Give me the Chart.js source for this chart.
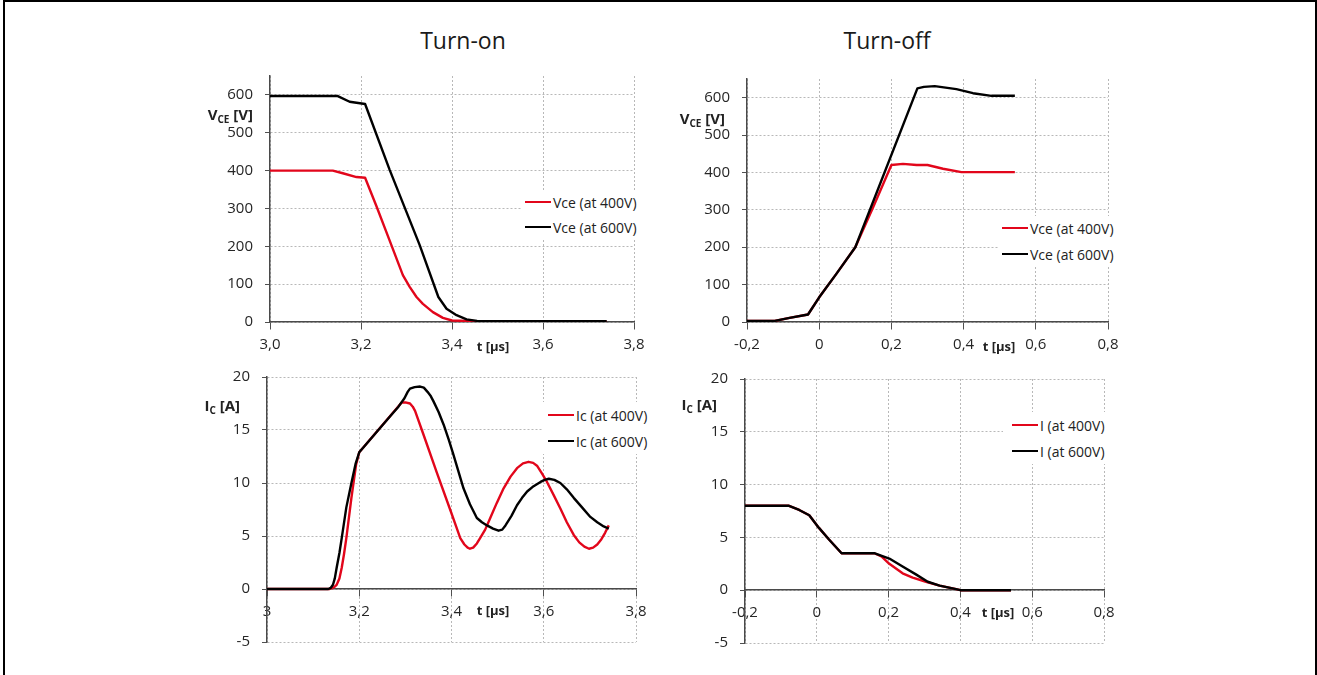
<!DOCTYPE html>
<html>
<head>
<meta charset="utf-8">
<script src="https://cdn.jsdelivr.net/npm/chart.js@4.4.1/dist/chart.umd.min.js"></script>
<style>
html,body{margin:0;padding:0;background:#fff;}
#stage{position:relative;width:1317px;height:675px;overflow:hidden;background:#fff;font-family:'Open Sans',sans-serif;color:#222;}
#frame{position:absolute;left:3px;top:0;width:1310px;height:700px;border:2px solid #000;border-bottom:none;}
canvas{position:absolute;}
.t{position:absolute;white-space:nowrap;line-height:1;}
.title{font-size:23px;color:#1a1a1a;width:200px;text-align:center;}
.ax{font-weight:bold;font-size:13px;color:#222;width:60px;text-align:center;}
.yt{font-weight:bold;font-size:15px;color:#222;text-align:right;}
.yt sub{font-size:10px;vertical-align:baseline;position:relative;top:3px;}
.leg{position:absolute;background:#fff;}
.row{position:absolute;height:20px;display:flex;align-items:center;font-size:14px;color:#222;white-space:nowrap;}
.sw{display:inline-block;width:26px;height:2.5px;margin-right:2px;}
</style>
</head>
<body>
<div id="stage">
  <div id="frame"></div>
  <div class="t title" style="left:363px;top:29px;">Turn-on</div>
  <div class="t title" style="left:787px;top:29px;">Turn-off</div>

  <canvas id="c1"></canvas>
  <canvas id="c2"></canvas>
  <canvas id="c3"></canvas>
  <canvas id="c4"></canvas>

  <div class="t yt" style="right:1064px;top:107px;">V<sub>CE</sub> [V]</div>
  <div class="t yt" style="right:592px;top:111px;">V<sub>CE</sub> [V]</div>
  <div class="t yt" style="right:1077px;top:398px;">I<sub>C</sub> [A]</div>
  <div class="t yt" style="right:600px;top:397px;">I<sub>C</sub> [A]</div>

  <div class="t ax" style="left:463px;top:340px;">t [µs]</div>
  <div class="t ax" style="left:969px;top:340px;">t [µs]</div>
  <div class="t ax" style="left:463px;top:604px;">t [µs]</div>
  <div class="t ax" style="left:968px;top:606px;">t [µs]</div>

  <div class="leg" style="left:522px;top:190px;width:122px;height:50px;">
    <div class="row" style="left:3px;top:2px;"><span class="sw" style="background:#e2061b"></span>Vce (at 400V)</div>
    <div class="row" style="left:3px;top:27px;"><span class="sw" style="background:#000"></span>Vce (at 600V)</div>
  </div>
  <div class="leg" style="left:998px;top:216px;width:125px;height:50px;">
    <div class="row" style="left:4px;top:2px;"><span class="sw" style="background:#e2061b"></span>Vce (at 400V)</div>
    <div class="row" style="left:4px;top:28px;"><span class="sw" style="background:#000"></span>Vce (at 600V)</div>
  </div>
  <div class="leg" style="left:543px;top:402px;width:112px;height:52px;">
    <div class="row" style="left:5px;top:3px;"><span class="sw" style="background:#e2061b"></span>Ic (at 400V)</div>
    <div class="row" style="left:5px;top:29px;"><span class="sw" style="background:#000"></span>Ic (at 600V)</div>
  </div>
  <div class="leg" style="left:1003px;top:412px;width:108px;height:52px;">
    <div class="row" style="left:9px;top:3px;"><span class="sw" style="background:#e2061b"></span>I (at 400V)</div>
    <div class="row" style="left:9px;top:29px;"><span class="sw" style="background:#000"></span>I (at 600V)</div>
  </div>
</div>

<script>
// ---- tick values and labels ----
const onTicks = [3.0, 3.2, 3.4, 3.6, 3.8];
const onTickLabelsTop = ['3,0', '3,2', '3,4', '3,6', '3,8'];
const onTickLabelsBottom = ['3', '3,2', '3,4', '3,6', '3,8'];
const offTicks = [-0.2, 0, 0.2, 0.4, 0.6, 0.8];
const offTickLabels = ['-0,2', '0', '0,2', '0,4', '0,6', '0,8'];
const vTicks = [0, 100, 200, 300, 400, 500, 600];
const iTicks = [-5, 0, 5, 10, 15, 20];

// ---- Turn-on, Vce ----
const onV400_t = [3.0, 3.138, 3.16, 3.19, 3.209, 3.234, 3.263, 3.292, 3.307, 3.322, 3.336, 3.358, 3.38, 3.4, 3.45, 3.55, 3.74];
const onV400_v = [400, 400, 393, 383, 381, 306, 215, 124, 93, 66, 48, 26, 11, 4, 2, 1, 1];
const onV600_t = [3.0, 3.149, 3.175, 3.209, 3.263, 3.329, 3.37, 3.388, 3.41, 3.432, 3.455, 3.55, 3.74];
const onV600_v = [597, 597, 582, 576, 402, 203, 66, 35, 18, 7, 3, 2, 2];

// ---- Turn-off, Vce ----
const offV400_t = [-0.2, -0.123, -0.082, -0.031, 0, 0.047, 0.1, 0.15, 0.2, 0.232, 0.27, 0.3, 0.343, 0.394, 0.542];
const offV400_v = [3, 3, 11, 20, 66, 128, 200, 308, 420, 423, 420, 420, 410, 401, 401];
const offV600_t = [-0.2, -0.123, -0.082, -0.031, 0, 0.047, 0.1, 0.272, 0.29, 0.32, 0.38, 0.426, 0.477, 0.542];
const offV600_v = [3, 3, 11, 20, 66, 128, 200, 625, 629, 631, 623, 612, 605, 605];

// ---- Turn-on, Ic ----
const onI400_t = [3.0, 3.136, 3.145, 3.151, 3.157, 3.162, 3.167, 3.172, 3.183, 3.193, 3.2, 3.292, 3.30, 3.31, 3.316, 3.321, 3.339, 3.368, 3.397, 3.41, 3.419, 3.428, 3.435, 3.44, 3.447, 3.455, 3.462, 3.473, 3.484, 3.498, 3.513, 3.528, 3.542, 3.555, 3.567, 3.577, 3.586, 3.596, 3.607, 3.621, 3.636, 3.65, 3.665, 3.677, 3.688, 3.698, 3.707, 3.716, 3.725, 3.733, 3.741];
const onI400_v = [0, 0, 0.15, 0.4, 1.0, 2, 3.3, 4.8, 8.6, 11.7, 12.9, 17.6, 17.6, 17.5, 17.2, 16.8, 14.6, 11.0, 7.5, 5.9, 4.8, 4.2, 3.9, 3.8, 3.9, 4.3, 4.8, 5.6, 6.7, 8.1, 9.5, 10.6, 11.4, 11.85, 12.0, 11.9, 11.6, 10.9, 10.1, 8.9, 7.6, 6.3, 5.1, 4.4, 4.0, 3.8, 3.9, 4.2, 4.7, 5.3, 6.0];
const onI600_t = [3.0, 3.133, 3.138, 3.143, 3.147, 3.151, 3.157, 3.162, 3.172, 3.183, 3.192, 3.2, 3.267, 3.285, 3.298, 3.305, 3.31, 3.32, 3.332, 3.34, 3.348, 3.355, 3.361, 3.372, 3.383, 3.394, 3.404, 3.415, 3.426, 3.44, 3.455, 3.466, 3.477, 3.49, 3.502, 3.51, 3.517, 3.53, 3.542, 3.553, 3.564, 3.578, 3.593, 3.602, 3.611, 3.623, 3.636, 3.65, 3.665, 3.683, 3.701, 3.716, 3.73, 3.741];
const onI600_v = [0, 0, 0.1, 0.4, 1.0, 2, 3.4, 4.8, 7.7, 10, 11.8, 12.9, 16.3, 17.2, 18.0, 18.6, 18.9, 19.05, 19.1, 19.0, 18.6, 18.2, 17.7, 16.7, 15.5, 14.1, 12.7, 11.1, 9.5, 8.0, 6.7, 6.3, 6.0, 5.7, 5.5, 5.6, 6.0, 6.9, 7.9, 8.6, 9.2, 9.7, 10.1, 10.3, 10.4, 10.3, 10.0, 9.4, 8.6, 7.7, 6.8, 6.3, 5.9, 5.7];

// ---- Turn-off, Ic ----
const offI400_t = [-0.2, -0.079, -0.049, -0.021, 0.006, 0.034, 0.069, 0.16, 0.18, 0.202, 0.239, 0.267, 0.304, 0.342, 0.388, 0.4, 0.541];
const offI400_v = [8, 8, 7.6, 7.1, 5.9, 4.8, 3.5, 3.5, 3.2, 2.5, 1.6, 1.2, 0.8, 0.44, 0.1, 0, 0];
const offI600_t = [-0.2, -0.079, -0.049, -0.021, 0.006, 0.034, 0.069, 0.16, 0.202, 0.239, 0.276, 0.309, 0.342, 0.388, 0.4, 0.541];
const offI600_v = [8, 8, 7.6, 7.1, 5.9, 4.8, 3.5, 3.5, 3.0, 2.24, 1.5, 0.8, 0.44, 0.1, 0, 0];

const RED = '#e2061b';
const BLACK = '#000000';
const pts = (xs, ys) => xs.map((x, i) => ({x: x, y: ys[i]}));

function makeChart(id, box, area, x, y, series) {
  const cv = document.getElementById(id);
  cv.style.left = box.L + 'px';
  cv.style.top = box.T + 'px';
  cv.width = box.W; cv.height = box.H;
  cv.style.width = box.W + 'px'; cv.style.height = box.H + 'px';
  const gridCommon = {color: '#b8b8b8', lineWidth: 1, tickColor: '#505050', tickWidth: 1, tickBorderDash: [], z: -1};
  const borderCommon = {display: true, color: '#4a4a4a', width: 1.5, dash: [2, 2]};
  const tickFont = {family: "'Open Sans', sans-serif", size: 15};
  return new Chart(cv, {
    type: 'line',
    data: {
      datasets: series.map(s => ({
        label: s.label,
        data: pts(s.t, s.v),
        borderColor: s.color,
        backgroundColor: s.color,
        borderWidth: 2.4,
        pointRadius: 0,
        fill: false,
        order: s.order,
        tension: 0,
        borderJoinStyle: 'round'
      }))
    },
    options: {
      responsive: false,
      animation: false,
      devicePixelRatio: 1,
      layout: {padding: {left: 0, top: area.top - box.T, right: box.L + box.W - area.right, bottom: box.T + box.H - area.bottom}},
      plugins: {legend: {display: false}, tooltip: {enabled: false}, title: {display: false}},
      scales: {
        x: {
          type: 'linear', position: {y: 0}, min: x.min, max: x.max,
          afterBuildTicks: s => { s.ticks = x.ticks.map(v => ({value: v})); },
          ticks: {callback: (v, i) => x.labels[i], padding: 7, color: '#262626', font: tickFont, maxRotation: 0, autoSkip: false},
          grid: Object.assign({tickLength: 7}, gridCommon),
          border: borderCommon
        },
        y: {
          type: 'linear', position: 'left', min: y.min, max: y.max,
          afterBuildTicks: s => { s.ticks = y.ticks.map(v => ({value: v})); },
          afterFit: s => { s.width = area.left - box.L; },
          ticks: {callback: v => String(v), padding: 12, color: '#262626', font: tickFont, autoSkip: false},
          grid: Object.assign({tickLength: 5}, gridCommon),
          border: borderCommon
        }
      }
    }
  });
}

makeChart('c1', {L: 190, T: 45, W: 470, H: 315}, {left: 270, top: 76, right: 634, bottom: 322},
  {min: 3.0, max: 3.8, ticks: onTicks, labels: onTickLabelsTop},
  {min: 0, max: 650, ticks: vTicks},
  [{label: 'Vce (at 400V)', t: onV400_t, v: onV400_v, color: RED, order: 1},
   {label: 'Vce (at 600V)', t: onV600_t, v: onV600_v, color: BLACK, order: 0}]);

makeChart('c2', {L: 670, T: 45, W: 470, H: 315}, {left: 747, top: 79, right: 1108, bottom: 322},
  {min: -0.2, max: 0.8, ticks: offTicks, labels: offTickLabels},
  {min: 0, max: 650, ticks: vTicks},
  [{label: 'Vce (at 400V)', t: offV400_t, v: offV400_v, color: RED, order: 1},
   {label: 'Vce (at 600V)', t: offV600_t, v: offV600_v, color: BLACK, order: 0}]);

makeChart('c3', {L: 190, T: 350, W: 470, H: 320}, {left: 267, top: 377, right: 636, bottom: 642},
  {min: 3.0, max: 3.8, ticks: onTicks, labels: onTickLabelsBottom},
  {min: -5, max: 20, ticks: iTicks},
  [{label: 'Ic (at 400V)', t: onI400_t, v: onI400_v, color: RED, order: 1},
   {label: 'Ic (at 600V)', t: onI600_t, v: onI600_v, color: BLACK, order: 0}]);

makeChart('c4', {L: 670, T: 350, W: 470, H: 320}, {left: 745, top: 379, right: 1104, bottom: 643},
  {min: -0.2, max: 0.8, ticks: offTicks, labels: offTickLabels},
  {min: -5, max: 20, ticks: iTicks},
  [{label: 'I (at 400V)', t: offI400_t, v: offI400_v, color: RED, order: 1},
   {label: 'I (at 600V)', t: offI600_t, v: offI600_v, color: BLACK, order: 0}]);
</script>
</body>
</html>
